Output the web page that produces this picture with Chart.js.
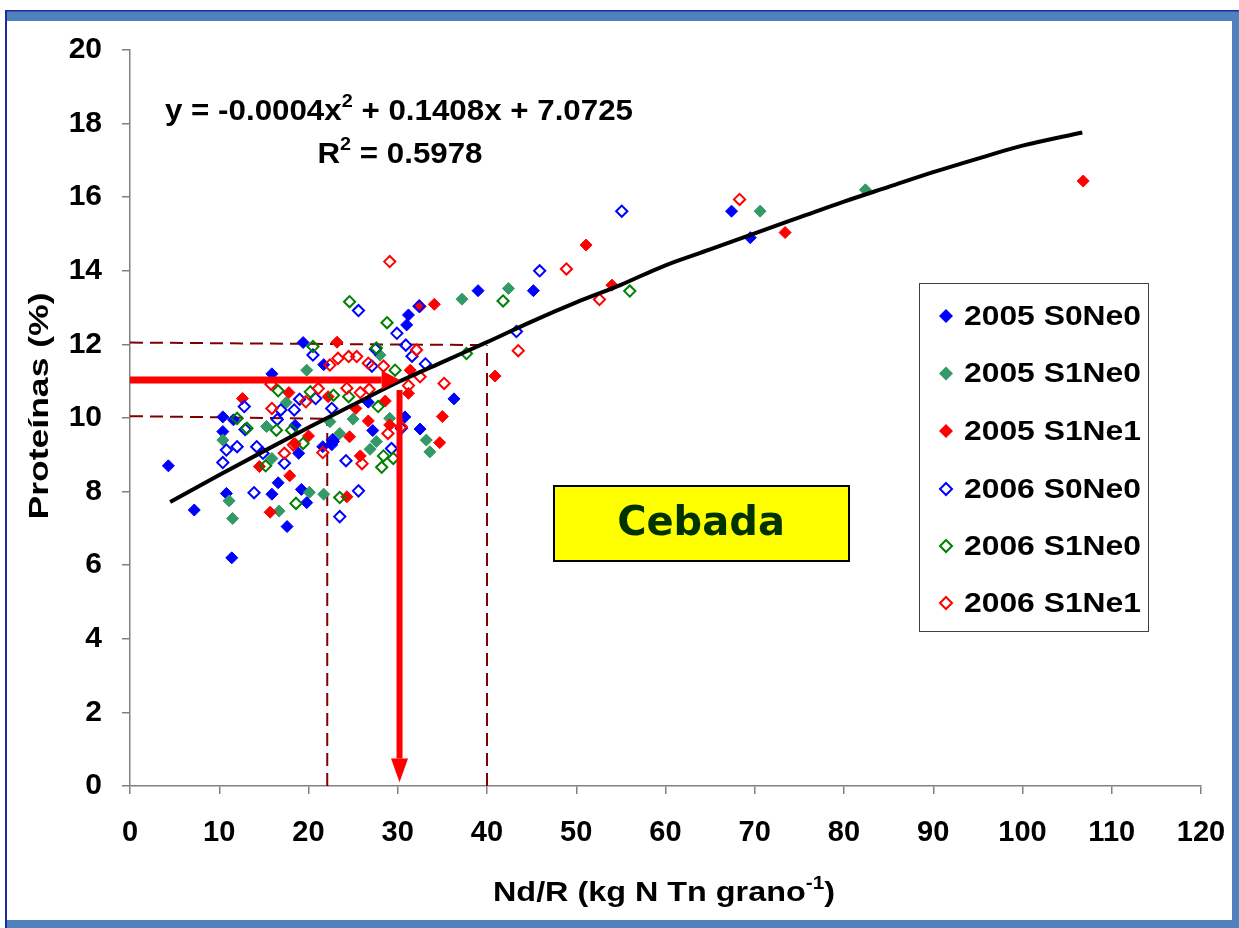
<!DOCTYPE html>
<html><head><meta charset="utf-8">
<script src="https://cdn.jsdelivr.net/npm/chart.js@4.4.0/dist/chart.umd.min.js"></script>
<style>html,body{margin:0;padding:0;background:#fff;}canvas{display:block;}</style>
</head><body>
<canvas id="c" width="1239" height="928"></canvas>
<script>
// ---- data ----
const seriesLabels = ['2005 S0Ne0','2005 S1Ne0','2005 S1Ne1','2006 S0Ne0','2006 S1Ne0','2006 S1Ne1'];
const seriesColors = ['#0000FF','#339966','#FF0000','#0000FF','#008000','#FF0000'];
const seriesFilled = [true,true,true,false,false,false];

const s1X = [4.3,7.2,10.4,10.4,10.8,11.4,11.6,15.9,15.9,16.6,17.6,18.5,18.9,19.2,19.8,19.4,21.6,21.7,22.6,22.8,26.7,27.2,30.8,31.0,31.2,32.5,36.3,39.0,45.2,67.4,69.5];
const s1Y = [8.7,7.5,10.03,9.63,7.95,6.2,9.95,11.2,7.93,8.24,7.05,9.8,9.04,8.06,7.7,12.05,9.22,11.45,9.27,9.36,10.43,9.66,10.03,12.53,12.8,9.7,10.52,13.46,13.46,15.62,14.9];

const s2X = [10.4,11.1,11.5,15.3,15.9,16.7,17.5,19.8,20.1,21.7,22.4,23.5,25.0,26.9,27.6,28.0,29.1,33.2,33.6,37.2,42.4,70.6,82.4];
const s2Y = [9.4,7.75,7.27,9.77,8.9,7.47,10.42,11.3,7.98,7.93,9.9,9.58,9.97,9.15,9.36,11.71,9.99,9.4,9.08,13.23,13.52,15.62,16.2];

const s3X = [12.6,14.5,15.7,17.8,17.9,18.5,20.0,22.2,23.2,24.3,24.6,25.3,25.8,26.7,28.6,29.1,31.2,31.4,32.5,34.1,34.7,35.0,40.9,51.1,54.0,73.4,106.8];
const s3Y = [10.53,8.68,7.44,10.69,8.43,9.3,9.51,10.58,12.06,7.86,9.49,10.26,8.97,9.92,10.46,9.81,10.67,11.3,13.03,13.09,9.33,10.04,11.14,14.7,13.61,15.04,16.44];

const s4X = [10.4,10.8,12.0,12.8,12.9,13.9,14.2,14.9,16.5,16.9,17.3,18.4,19.0,20.5,20.8,22.6,22.7,23.5,24.2,25.6,25.6,27.1,27.5,29.3,29.9,30.4,30.9,31.6,32.4,33.1,43.3,45.9,55.1];
const s4Y = [8.79,9.13,9.22,10.31,9.69,7.97,9.22,9.04,9.96,10.22,8.77,10.22,10.51,11.71,10.53,10.26,9.4,7.32,8.84,12.92,8.02,11.41,11.87,9.17,12.3,9.72,11.98,11.68,13.04,11.47,12.35,14.0,15.62];

const s5X = [12.0,13.1,15.2,16.4,16.6,18.1,18.6,19.4,20.2,20.5,22.8,23.5,24.5,24.6,27.6,27.8,28.2,28.4,28.8,29.5,29.7,37.7,41.8,56.0];
const s5Y = [9.99,9.72,8.7,9.67,10.74,9.67,7.68,9.31,10.71,11.94,10.62,7.84,10.58,13.16,11.9,10.31,8.66,8.97,12.59,8.9,11.3,11.75,13.18,13.45];

const s6X = [15.8,15.9,17.3,18.3,19.7,21.1,21.6,22.4,23.3,24.3,24.5,25.4,25.8,26.0,26.7,26.8,28.4,28.9,29.1,30.4,31.2,32.1,32.5,35.2,43.5,48.9,52.6,68.3];
const s6Y = [10.92,10.26,9.04,9.27,10.44,10.8,9.06,11.44,11.62,10.81,11.67,11.67,10.69,8.76,11.49,10.78,11.41,9.58,14.25,9.76,10.88,11.85,11.12,10.94,11.83,14.05,13.22,15.94];

// trend line
const trendX = [4.5,10,15,20,25,30,35,40,45,50,55,60,65,70,75,80,85,90,95,100,106.7];
const trendY = [7.72,8.45,9.1,9.74,10.36,10.97,11.52,12.06,12.62,13.14,13.62,14.15,14.58,15.02,15.45,15.88,16.28,16.68,17.05,17.4,17.76];

// dashed guide lines [x0,y0,x1,y1]
const guideH12 = [0,12.05,40,11.98];
const guideH10 = [0,10.05,22.1,9.98];
const guideV22 = [22.1,0,22.1,9.98];
const guideV40 = [40,0,40,11.98];

// red arrows: line start, line end, tip
const arrowHX = [0,28.2,30.25]; const arrowHY = [11.03,11.03,11.03];
const arrowVX = [30.2,30.2,30.2]; const arrowVY = [10.76,0.75,0.1];

const xTickLabels = ['0','10','20','30','40','50','60','70','80','90','100','110','120'];
const yTickLabels = ['0','2','4','6','8','10','12','14','16','18','20'];

const eqLine1 = ['y = -0.0004x','2',' + 0.1408x + 7.0725'];
const eqLine2 = ['R','2',' = 0.5978'];
const xTitleParts = ['Nd/R (kg N Tn grano','-1',')'];
const yTitle = 'Proteínas (%)';
const boxText = 'Cebada';

// ---- build ----
const FONT = '"Liberation Sans", Arial, sans-serif';
function pts(xs, ys){ return xs.map((x,i)=>({x:x, y:ys[i]})); }
const sX = [s1X,s2X,s3X,s4X,s5X,s6X], sY = [s1Y,s2Y,s3Y,s4Y,s5Y,s6Y];

const datasets = [];
datasets.push({label:'arrowH', data:pts(arrowHX.slice(0,2),arrowHY.slice(0,2)), showLine:true, borderColor:'#FF0000', borderWidth:7, pointRadius:0, order:0, borderCapStyle:'butt'});
datasets.push({label:'arrowV', data:pts(arrowVX.slice(0,2),arrowVY.slice(0,2)), showLine:true, borderColor:'#FF0000', borderWidth:6, pointRadius:0, order:0, borderCapStyle:'butt'});
datasets.push({label:'trend', data:pts(trendX,trendY), showLine:true, borderColor:'#000000', borderWidth:4, pointRadius:0, cubicInterpolationMode:'monotone', order:1});
for (let i=0;i<6;i++){
  datasets.push({
    label: seriesLabels[i], data: pts(sX[i], sY[i]), showLine:false,
    pointStyle:'rectRot',
    pointRadius: seriesFilled[i] ? 6 : 5.6,
    borderWidth: seriesFilled[i] ? 1 : 2,
    backgroundColor: seriesFilled[i] ? seriesColors[i] : 'rgba(0,0,0,0)',
    borderColor: seriesColors[i],
    order: 7 - i
  });
}
[guideH12,guideH10,guideV22,guideV40].forEach((g,k)=>{
  datasets.push({label:'guide'+k, data:[{x:g[0],y:g[1]},{x:g[2],y:g[3]}], showLine:true, borderColor:'#800000', borderWidth:2, borderDash:[13,7], pointRadius:0, order:10});
});

function drawStretched(ctx, text, x, y, sx, align){
  ctx.save(); ctx.translate(x,y); ctx.scale(sx,1); ctx.textAlign=align||'left'; ctx.fillText(text,0,0); ctx.restore();
}
function drawSupLine(ctx, parts, cx, baseY, size, supSize, targetW){
  ctx.font = 'bold '+size+'px '+FONT; const w0 = ctx.measureText(parts[0]).width; const w2 = ctx.measureText(parts[2]).width;
  ctx.font = 'bold '+supSize+'px '+FONT; const w1 = ctx.measureText(parts[1]).width;
  const total = w0+w1+w2; const sx = targetW ? targetW/total : 1;
  ctx.save(); ctx.translate(cx - total*sx/2, baseY); ctx.scale(sx,1);
  ctx.textAlign='left'; ctx.textBaseline='alphabetic'; ctx.fillStyle='#000';
  ctx.font = 'bold '+size+'px '+FONT; ctx.fillText(parts[0],0,0);
  ctx.font = 'bold '+supSize+'px '+FONT; ctx.fillText(parts[1],w0,-size*0.42);
  ctx.font = 'bold '+size+'px '+FONT; ctx.fillText(parts[2],w0+w1,0);
  ctx.restore();
}
function diamond(ctx, x, y, r, color, filled){
  ctx.beginPath(); ctx.moveTo(x,y-r); ctx.lineTo(x+r,y); ctx.lineTo(x,y+r); ctx.lineTo(x-r,y); ctx.closePath();
  if (filled){ ctx.fillStyle=color; ctx.fill(); } else { ctx.strokeStyle=color; ctx.lineWidth=2; ctx.stroke(); }
}

const decor = {
  id:'decor',
  beforeDraw(chart){
    const ctx = chart.ctx; ctx.save();
    ctx.fillStyle='#fff'; ctx.fillRect(0,0,1239,928);
    ctx.fillStyle='#4F81BD';
    ctx.fillRect(5,10,1234,11);
    ctx.fillRect(1232,10,7,918);
    ctx.fillRect(5,920,1234,8);
    ctx.fillStyle='#1F2A9C';
    ctx.fillRect(5,10,1234,1.5);
    ctx.fillRect(5,10,2,918);
    ctx.restore();
  },
  afterDatasetsDraw(chart){
    const ctx = chart.ctx, xs = chart.scales.x, ys = chart.scales.y;
    ctx.save(); ctx.fillStyle='#FF0000';
    let tx = xs.getPixelForValue(arrowHX[2]), ty = ys.getPixelForValue(arrowHY[2]), bx = xs.getPixelForValue(arrowHX[1]);
    ctx.beginPath(); ctx.moveTo(tx,ty); ctx.lineTo(bx,ty-9.5); ctx.lineTo(bx,ty+9.5); ctx.closePath(); ctx.fill();
    tx = xs.getPixelForValue(arrowVX[2]); ty = ys.getPixelForValue(arrowVY[2]); const by = ys.getPixelForValue(arrowVY[1]);
    ctx.beginPath(); ctx.moveTo(tx,ty); ctx.lineTo(tx-8.5,by); ctx.lineTo(tx+8.5,by); ctx.closePath(); ctx.fill();
    ctx.restore();
  },
  afterDraw(chart){
    const ctx = chart.ctx; ctx.save();
    drawSupLine(ctx, eqLine1, 399, 120, 30, 19, 468);
    drawSupLine(ctx, eqLine2, 400, 163, 30, 19, 165);
    drawSupLine(ctx, xTitleParts, 664, 901, 28, 18, 342);
    ctx.save(); ctx.translate(48, 406); ctx.rotate(-Math.PI/2);
    ctx.font='bold 28px '+FONT; ctx.fillStyle='#000'; ctx.textBaseline='alphabetic';
    const wy = ctx.measureText(yTitle).width; drawStretched(ctx, yTitle, 0, 0, 227/wy, 'center');
    ctx.restore();
    ctx.fillStyle='#FFFF00'; ctx.fillRect(554,486,295,75);
    ctx.strokeStyle='#000'; ctx.lineWidth=2; ctx.strokeRect(554,486,295,75);
    ctx.fillStyle='#003300'; ctx.font='bold 40px "DejaVu Sans", sans-serif'; ctx.textAlign='center'; ctx.textBaseline='alphabetic';
    ctx.fillText(boxText, 701, 535);
    ctx.fillStyle='#fff'; ctx.fillRect(919.5,283.5,229,348);
    ctx.strokeStyle='#404040'; ctx.lineWidth=1; ctx.strokeRect(919.5,283.5,229,348);
    const rows=[316,373.5,431,489,546,603];
    ctx.font='bold 28px '+FONT; const lw = ctx.measureText(seriesLabels[0]).width; const lsx = 177/lw;
    for (let i=0;i<6;i++){
      diamond(ctx, 946, rows[i], seriesFilled[i]?7:6, seriesColors[i], seriesFilled[i]);
      ctx.fillStyle='#000'; ctx.font='bold 28px '+FONT; ctx.textBaseline='middle';
      drawStretched(ctx, seriesLabels[i], 964, rows[i]+1, lsx, 'left');
    }
    ctx.restore();
  }
};

new Chart(document.getElementById('c'), {
  type:'scatter',
  data:{datasets},
  options:{
    responsive:false, animation:false, devicePixelRatio:1,
    layout:{padding:{left:0,top:50,right:38,bottom:0}},
    plugins:{legend:{display:false}, tooltip:{enabled:false}},
    scales:{
      x:{type:'linear', min:0, max:120,
        afterFit(s){ s.height = 142; s.paddingLeft = 0; s.paddingRight = 0; },
        ticks:{stepSize:10, color:'#000', padding:22, font:{family:FONT,size:29,weight:'bold'}, maxRotation:0,
          callback:(v)=>xTickLabels[Math.round(v/10)]},
        grid:{drawOnChartArea:false, drawTicks:true, tickLength:8, color:'#808080', lineWidth:1.5},
        border:{display:true, color:'#808080', width:1.5}
      },
      y:{type:'linear', min:0, max:20,
        afterFit(s){ s.width = 130; s.paddingTop = 0; s.paddingBottom = 0; },
        ticks:{stepSize:2, color:'#000', padding:20, font:{family:FONT,size:30,weight:'bold'},
          callback:(v)=>yTickLabels[Math.round(v/2)]},
        grid:{drawOnChartArea:false, drawTicks:true, tickLength:8, color:'#808080', lineWidth:1.5},
        border:{display:true, color:'#808080', width:1.5}
      }
    }
  },
  plugins:[decor]
});
</script>
</body></html>
